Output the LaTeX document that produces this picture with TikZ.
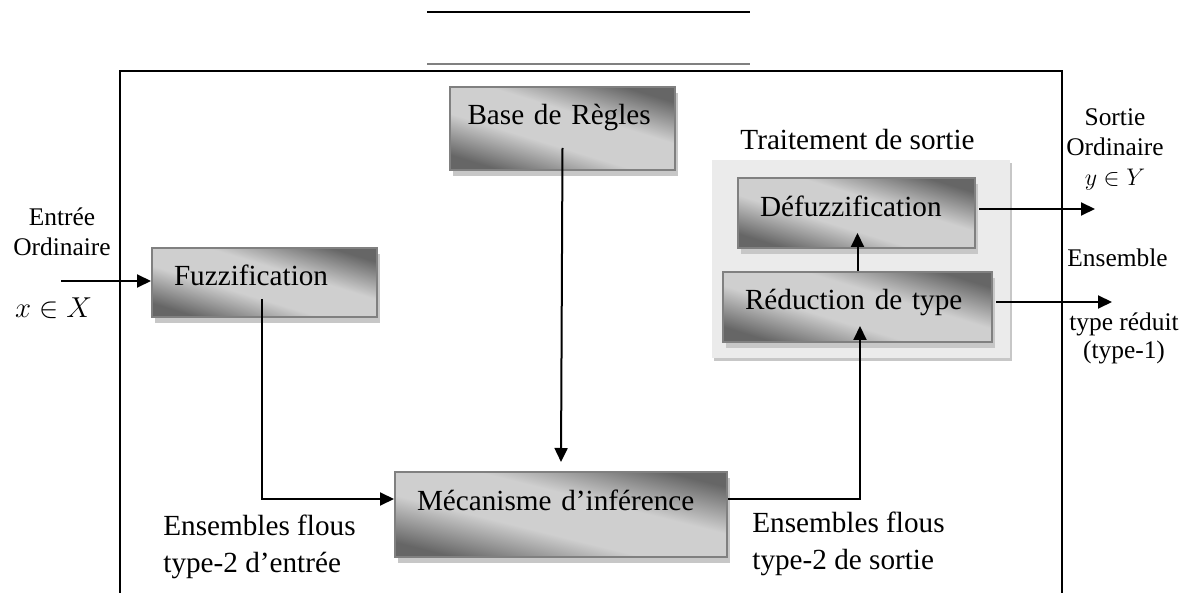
\documentclass[tikz,border=0pt]{standalone}
\usepackage{fontspec}
\setmainfont{Liberation Serif}
\usetikzlibrary{arrows.meta,shadows}
\colorlet{boxdark}{black!60}
\colorlet{boxlight}{black!19}
\pgfdeclareverticalshading{boxshade}{100bp}{color(0bp)=(boxdark); color(25bp)=(boxdark); color(42bp)=(boxlight); color(58bp)=(boxlight); color(75bp)=(boxdark); color(100bp)=(boxdark)}
\newcommand{\bigfont}{\fontsize{14.6pt}{18.5pt}\selectfont}
\newcommand{\smallfont}{\fontsize{12.7pt}{15pt}\selectfont}
\begin{document}
\begin{tikzpicture}[x=0.5pt,y=-0.5pt,
    block/.style={rectangle, draw=black!50, line width=1pt, shading=boxshade, shading angle=-17,
        drop shadow={shadow xshift=1.5pt, shadow yshift=-3pt, fill=black!22, opacity=1},
        inner xsep=11pt, inner ysep=0pt, align=left, font=\bigfont},
    flow/.style={line width=1pt, -{Triangle[length=7pt,width=6.5pt]}},
    tag/.style={font=\smallfont, align=center, inner sep=0pt},
    caption/.style={font=\bigfont, align=left, inner sep=0pt}]
    \useasboundingbox (0,0) rectangle (1195,593);
    \draw[line width=1.2pt] (427,12) -- (750,12);
    \draw[black!50, line width=0.8pt] (427,64) -- (750,64);
    \draw[line width=1pt] (120,593) -- (120,71) -- (1062,71) -- (1062,593);

    \node(panel) [rectangle, fill=black!8, drop shadow={shadow xshift=1pt, shadow yshift=-1.5pt, fill=black!22, opacity=1}, minimum width=149pt, minimum height=99pt] at (861,259) {};
    \node(title) [caption, anchor=base] at (857.5,150) {Traitement de sortie};

    \node(base) [block, text width=95pt, inner xsep=8.75pt, minimum height=41.5pt, text height=0pt, text depth=3.5pt] at (562.5,128.5) {Base de Règles};
    \node(fuzz) [block, text width=90.5pt, minimum height=34.5pt, text height=3.5pt, text depth=0pt] at (264.5,282.5) {Fuzzification};
    \node(infer) [block, text width=144pt, minimum height=42.5pt, text height=0pt, text depth=4.5pt, shading angle=-14] at (561,514.5) {Mécanisme d’inférence};
    \node(defuz) [block, text width=96.5pt, minimum height=35pt, text height=4pt, text depth=0pt] at (856.5,213) {Défuzzification};
    \node(reduc) [block, text width=112.5pt, minimum height=35pt, text height=3pt, text depth=0pt] at (857.5,307) {Réduction de type};

    \node(inlabel) [tag, anchor=north] at (62,207.5) {Entrée\\Ordinaire};
    \node(xlabel) [tag, anchor=base, font=\bigfont] at (53.5,318) {$x\in X$};
    \node(outlabel) [tag, anchor=north] at (1115,108) {Sortie\\Ordinaire\\$y\in Y$};
    \node(setlabel) [tag, anchor=base] at (1117.5,267) {Ensemble};
    \node(typelabel) [tag, anchor=north, text depth=0pt] at (1124,312.5) {type réduit\\[-1pt](type-1)};
    \node(t2in) [caption, anchor=north west] at (163,515) {Ensembles flous\\type-2 d’entrée};
    \node(t2out) [caption, anchor=north west] at (752,512) {Ensembles flous\\type-2 de sortie};

    \coordinate (xin) at (61,281);
    \coordinate (yout) at (1095,209);
    \coordinate (redout) at (1112,302);

    \draw[flow] (xin) -- (xin -| fuzz.west);
    \draw[flow] ([yshift=11.5pt]base.south) -- ([yshift=4.5pt]infer.north);
    \draw[flow] ([xshift=-1.25pt,yshift=9.5pt]fuzz.south) |- ([yshift=7.75pt]infer.west);
    \draw[flow] ([yshift=7.75pt]infer.east) -| ([xshift=1.25pt,yshift=8.5pt]reduc.south);
    \draw[flow] (reduc.north) -- ([yshift=8pt]defuz.south -| reduc.north);
    \draw[flow] ([xshift=1.5pt]yout -| defuz.east) -- (yout);
    \draw[flow] ([xshift=1.5pt]redout -| reduc.east) -- (redout);
\end{tikzpicture}
\end{document}
